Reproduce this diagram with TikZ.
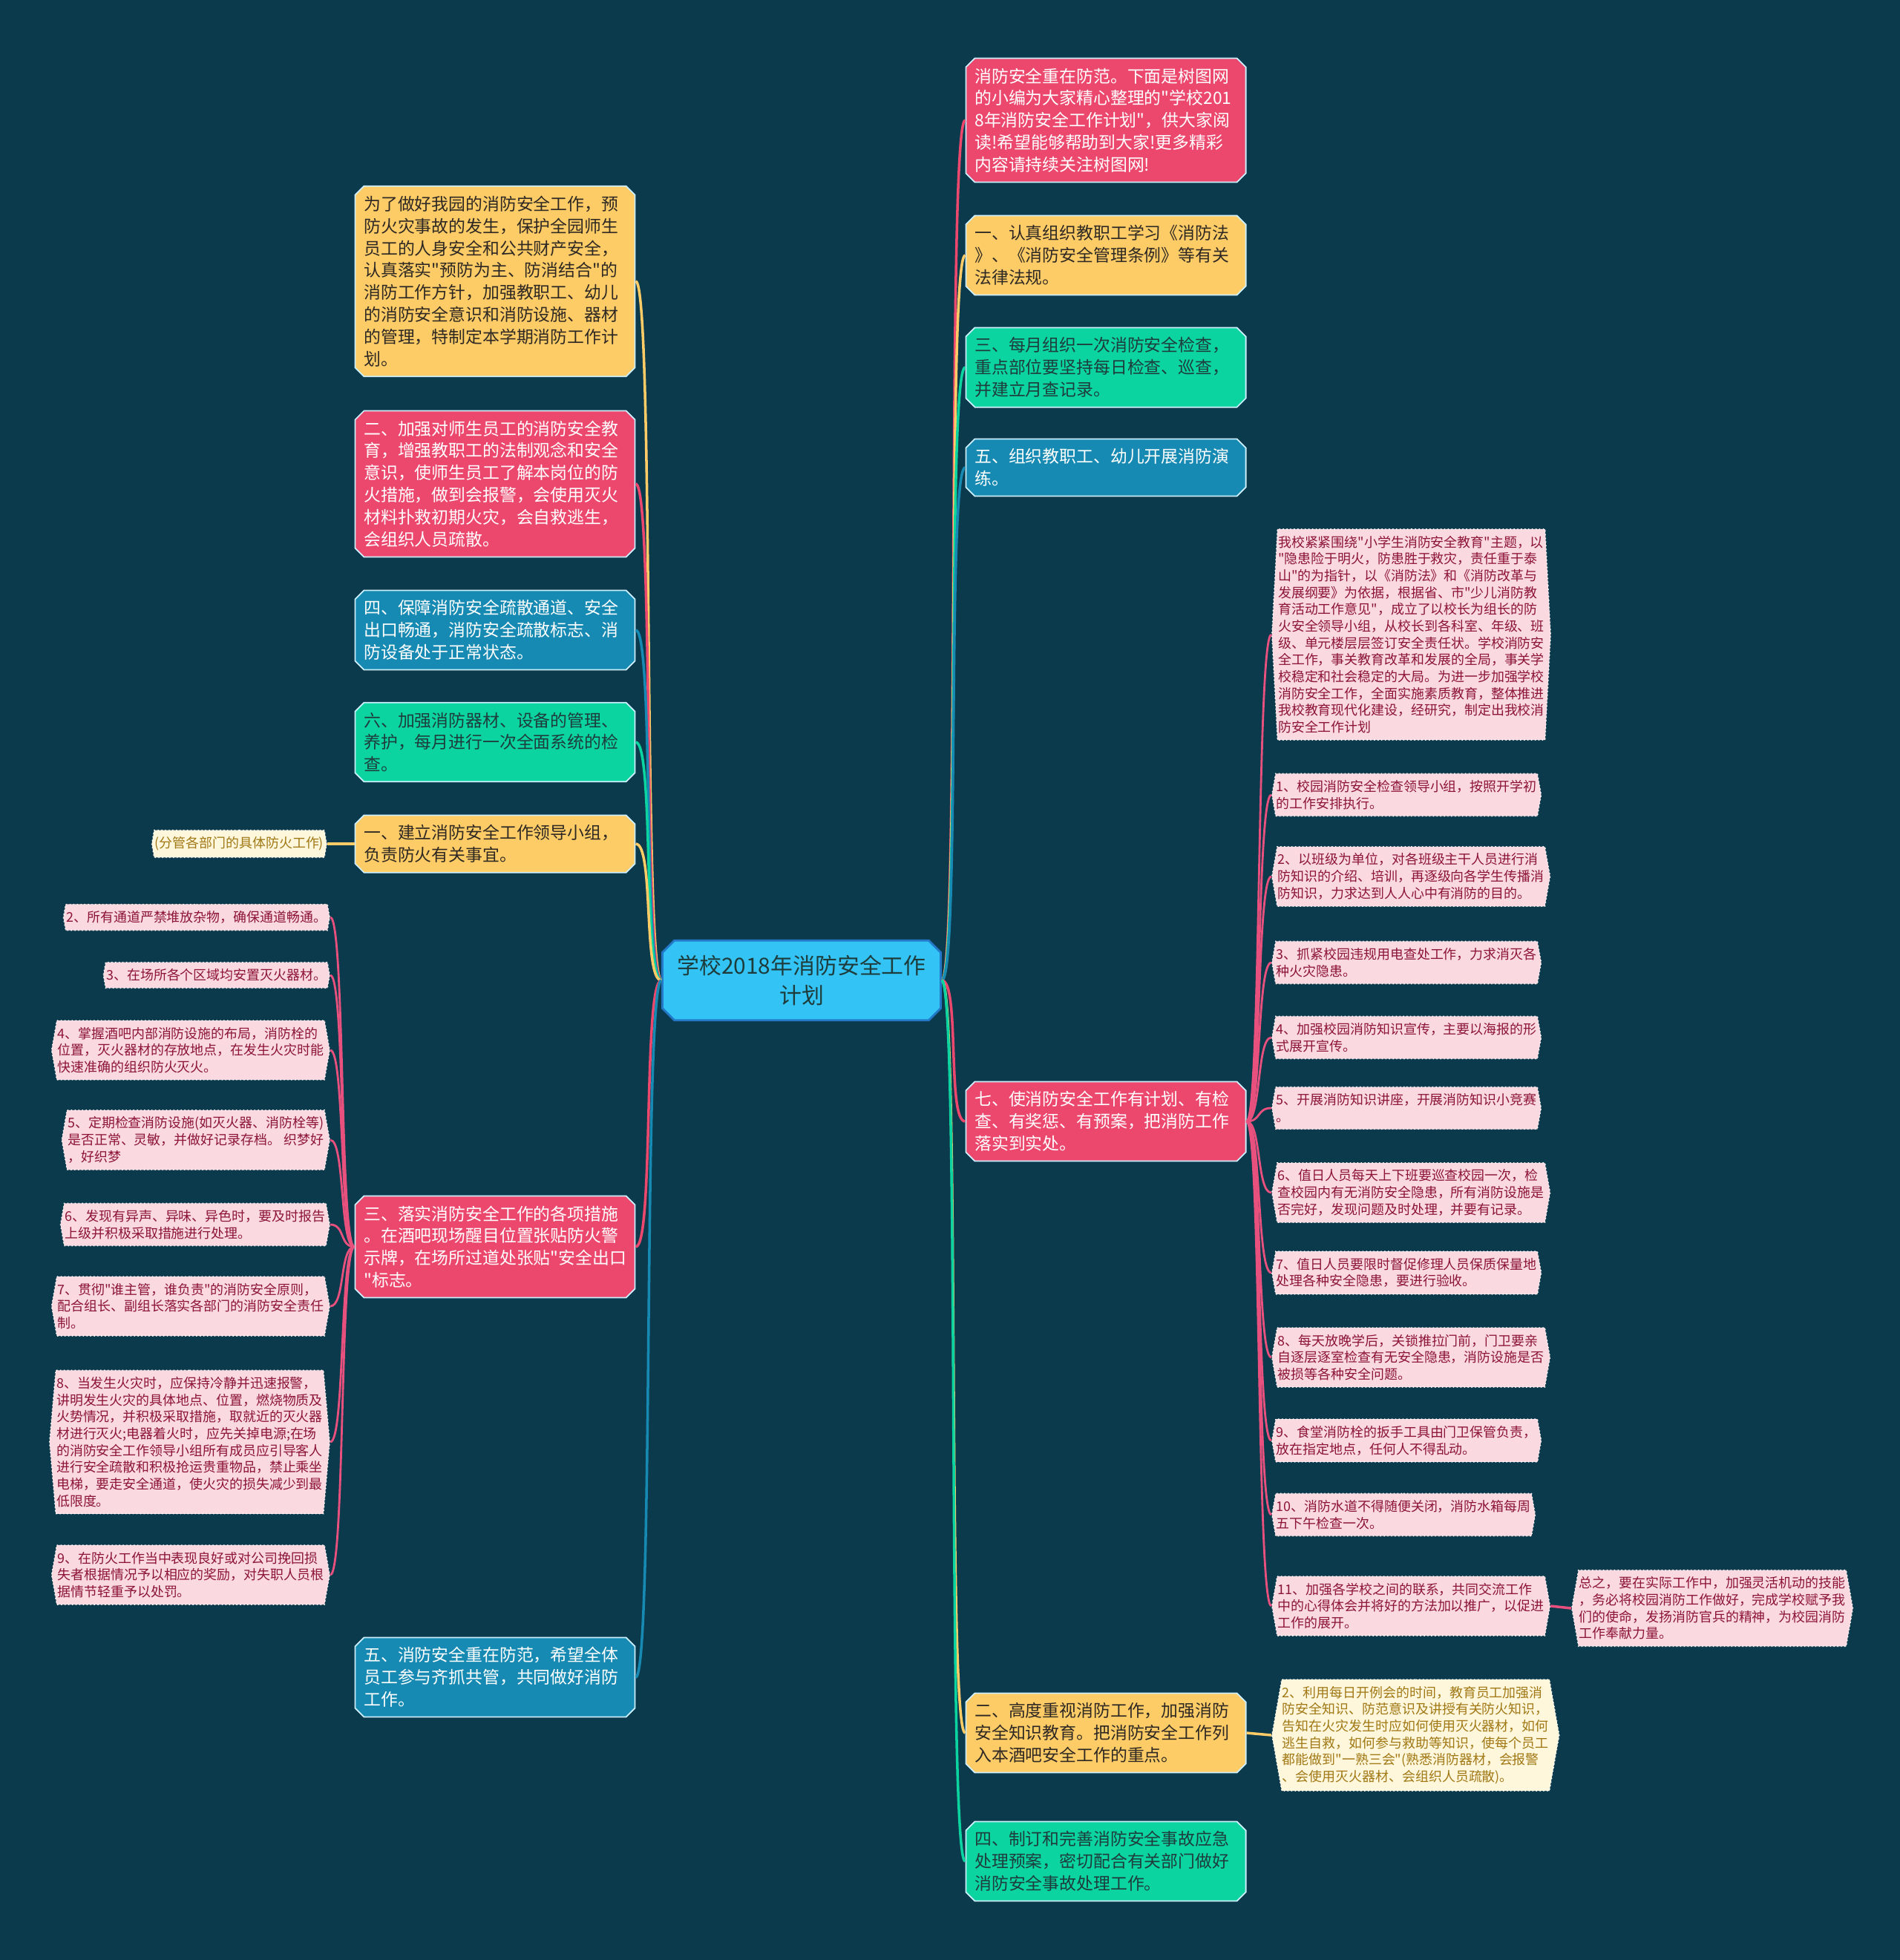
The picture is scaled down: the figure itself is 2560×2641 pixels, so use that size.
\documentclass[tikz,border=0pt]{standalone}
\usepackage{fontspec}
\newfontfamily\cjk{Noto Sans CJK SC}
\usetikzlibrary{shapes.misc,shapes.symbols}

\definecolor{bgblue}{RGB}{12,58,77}
\definecolor{nodered}{RGB}{236,72,110}
\definecolor{nodeyellow}{RGB}{254,204,102}
\definecolor{nodegreen}{RGB}{12,212,160}
\definecolor{nodeblue}{RGB}{22,138,178}
\definecolor{rootfill}{RGB}{51,196,245}
\definecolor{rootline}{RGB}{35,120,200}
\definecolor{subpink}{RGB}{251,217,225}
\definecolor{subcream}{RGB}{255,247,220}
\definecolor{subtext}{RGB}{140,20,55}
\definecolor{creamtext}{RGB}{160,120,20}
\definecolor{textdark}{RGB}{45,40,35}
\definecolor{textgreen}{RGB}{30,60,60}
\definecolor{pinkline}{RGB}{232,80,125}

\tikzset{
  mainbox/.style={chamfered rectangle, chamfered rectangle xsep=0.06cm,
    chamfered rectangle ysep=0.06cm, draw=white!80!cyan, line width=0.5pt,
    text width=3.53cm, inner xsep=0.06cm, inner ysep=0.07cm,
    align=left, font=\cjk\fontsize{6.5pt}{8.5pt}\selectfont},
  redbox/.style={mainbox, fill=nodered, text=white},
  yellowbox/.style={mainbox, fill=nodeyellow, text=textdark},
  greenbox/.style={mainbox, fill=nodegreen, text=textgreen},
  bluebox/.style={mainbox, fill=nodeblue, text=white},
  subbox/.style={signal, signal to=west and east, signal pointer angle=160,
    draw=white, densely dotted, line width=0.4pt, fill=subpink, text=subtext,
    inner xsep=0.01cm, inner ysep=0.09cm, align=left,
    font=\cjk\fontsize{5.1pt}{6.45pt}\selectfont},
  creambox/.style={subbox, fill=subcream, text=creamtext},
  link/.style={line width=1pt},
  sublink/.style={draw=pinkline, line width=0.8pt}
}

\begin{document}
\begin{tikzpicture}[x=0.01cm, y=-0.01cm]
\useasboundingbox (0,0) rectangle (2560,2641);
\fill[bgblue] (0,0) rectangle (2560,2641);

\node (root) at (1080,1321) [chamfered rectangle, chamfered rectangle xsep=0.08cm,
  chamfered rectangle ysep=0.08cm, draw=rootline, line width=0.8pt, fill=rootfill,
  text=textgreen, minimum width=3.7cm, minimum height=1.0cm, align=center,
  font=\cjk\fontsize{8.5pt}{11.4pt}\selectfont] {学校2018年消防安全工作\\计划};

\node (r0) at (1490,162) [redbox] {消防安全重在防范。下面是树图网\\的小编为大家精心整理的"学校201\\8年消防安全工作计划"，供大家阅\\读!希望能够帮助到大家!更多精彩\\内容请持续关注树图网!};
\node (r1) at (1490,344) [yellowbox] {一、认真组织教职工学习《消防法\\》、《消防安全管理条例》等有关\\法律法规。};
\node (r2) at (1490,495) [greenbox] {三、每月组织一次消防安全检查，\\重点部位要坚持每日检查、巡查，\\并建立月查记录。};
\node (r3) at (1490,630) [bluebox] {五、组织教职工、幼儿开展消防演\\练。};
\node (r4) at (1490,1511) [redbox] {七、使消防安全工作有计划、有检\\查、有奖惩、有预案，把消防工作\\落实到实处。};
\node (r5) at (1490,2335) [yellowbox] {二、高度重视消防工作，加强消防\\安全知识教育。把消防安全工作列\\入本酒吧安全工作的重点。};
\node (r6) at (1490,2508) [greenbox] {四、制订和完善消防安全事故应急\\处理预案，密切配合有关部门做好\\消防安全事故处理工作。};

\node (l0) at (667,379) [yellowbox] {为了做好我园的消防安全工作，预\\防火灾事故的发生，保护全园师生\\员工的人身安全和公共财产安全，\\认真落实"预防为主、防消结合"的\\消防工作方针，加强教职工、幼儿\\的消防安全意识和消防设施、器材\\的管理，特制定本学期消防工作计\\划。};
\node (l1) at (667,652) [redbox] {二、加强对师生员工的消防安全教\\育，增强教职工的法制观念和安全\\意识，使师生员工了解本岗位的防\\火措施，做到会报警，会使用灭火\\材料扑救初期火灾，会自救逃生，\\会组织人员疏散。};
\node (l2) at (667,849) [bluebox] {四、保障消防安全疏散通道、安全\\出口畅通，消防安全疏散标志、消\\防设备处于正常状态。};
\node (l3) at (667,1000) [greenbox] {六、加强消防器材、设备的管理、\\养护，每月进行一次全面系统的检\\查。};
\node (l4) at (667,1137) [yellowbox] {一、建立消防安全工作领导小组，\\负责防火有关事宜。};
\node (l5) at (667,1680) [redbox] {三、落实消防安全工作的各项措施\\。在酒吧现场醒目位置张贴防火警\\示牌，在场所过道处张贴"安全出口\\"标志。};
\node (l6) at (667,2260) [bluebox] {五、消防安全重在防范，希望全体\\员工参与齐抓共管，共同做好消防\\工作。};

\node (s0) at (441,1137) [creambox, anchor=east] {(分管各部门的具体防火工作)};
\node (s1) at (445,1236) [subbox, anchor=east] {2、所有通道严禁堆放杂物，确保通道畅通。};
\node (s2) at (445,1314) [subbox, anchor=east] {3、在场所各个区域均安置灭火器材。};
\node (s3) at (445,1415) [subbox, anchor=east] {4、掌握酒吧内部消防设施的布局，消防栓的\\位置，灭火器材的存放地点，在发生火灾时能\\快速准确的组织防火灭火。};
\node (s4) at (445,1536) [subbox, anchor=east] {5、定期检查消防设施(如灭火器、消防栓等)\\是否正常、灵敏，并做好记录存档。 织梦好\\，好织梦};
\node (s5) at (445,1650) [subbox, anchor=east] {6、发现有异声、异味、异色时，要及时报告\\上级并积极采取措施进行处理。};
\node (s6) at (445,1760) [subbox, anchor=east] {7、贯彻"谁主管，谁负责"的消防安全原则，\\配合组长、副组长落实各部门的消防安全责任\\制。};
\node (s7) at (445,1943) [subbox, anchor=east, signal pointer angle=170] {8、当发生火灾时，应保持冷静并迅速报警，\\讲明发生火灾的具体地点、位置，燃烧物质及\\火势情况，并积极采取措施，取就近的灭火器\\材进行灭火;电器着火时，应先关掉电源;在场\\的消防安全工作领导小组所有成员应引导客人\\进行安全疏散和积极抢运贵重物品，禁止乘坐\\电梯，要走安全通道，使火灾的损失减少到最\\低限度。};
\node (s8) at (445,2122) [subbox, anchor=east] {9、在防火工作当中表现良好或对公司挽回损\\失者根据情况予以相应的奖励，对失职人员根\\据情节轻重予以处罚。};

\node (t0) at (1713,855) [subbox, anchor=west, signal pointer angle=174] {我校紧紧围绕"小学生消防安全教育"主题，以\\"隐患险于明火，防患胜于救灾，责任重于泰\\山"的为指针，以《消防法》和《消防改革与\\发展纲要》为依据，根据省、市"少儿消防教\\育活动工作意见"，成立了以校长为组长的防\\火安全领导小组，从校长到各科室、年级、班\\级、单元楼层层签订安全责任状。学校消防安\\全工作，事关教育改革和发展的全局，事关学\\校稳定和社会稳定的大局。为进一步加强学校\\消防安全工作，全面实施素质教育，整体推进\\我校教育现代化建设，经研究，制定出我校消\\防安全工作计划};
\node (t1) at (1713,1071) [subbox, anchor=west] {1、校园消防安全检查领导小组，按照开学初\\的工作安排执行。};
\node (t2) at (1713,1181) [subbox, anchor=west] {2、以班级为单位，对各班级主干人员进行消\\防知识的介绍、培训，再逐级向各学生传播消\\防知识，力求达到人人心中有消防的目的。};
\node (t3) at (1713,1297) [subbox, anchor=west] {3、抓紧校园违规用电查处工作，力求消灭各\\种火灾隐患。};
\node (t4) at (1713,1398) [subbox, anchor=west] {4、加强校园消防知识宣传，主要以海报的形\\式展开宣传。};
\node (t5) at (1713,1493) [subbox, anchor=west] {5、开展消防知识讲座，开展消防知识小竞赛\\。};
\node (t6) at (1713,1607) [subbox, anchor=west] {6、值日人员每天上下班要巡查校园一次，检\\查校园内有无消防安全隐患，所有消防设施是\\否完好，发现问题及时处理，并要有记录。};
\node (t7) at (1713,1715) [subbox, anchor=west] {7、值日人员要限时督促修理人员保质保量地\\处理各种安全隐患，要进行验收。};
\node (t8) at (1713,1829) [subbox, anchor=west] {8、每天放晚学后，关锁推拉门前，门卫要亲\\自逐层逐室检查有无安全隐患，消防设施是否\\被损等各种安全问题。};
\node (t9) at (1713,1941) [subbox, anchor=west] {9、食堂消防栓的扳手工具由门卫保管负责，\\放在指定地点，任何人不得乱动。};
\node (t10) at (1713,2041) [subbox, anchor=west] {10、消防水道不得随便关闭，消防水箱每周\\五下午检查一次。};
\node (t11) at (1713,2164) [subbox, anchor=west] {11、加强各学校之间的联系，共同交流工作\\中的心得体会并将好的方法加以推广，以促进\\工作的展开。};
\node (t12) at (2117,2167) [subbox, anchor=west] {总之，要在实际工作中，加强灵活机动的技能\\，务必将校园消防工作做好，完成学校赋予我\\们的使命，发扬消防官兵的精神，为校园消防\\工作奉献力量。};
\node (t13) at (1713,2338) [creambox, anchor=west] {2、利用每日开例会的时间，教育员工加强消\\防安全知识、防范意识及讲授有关防火知识，\\告知在火灾发生时应如何使用灭火器材，如何\\逃生自救，如何参与救助等知识，使每个员工\\都能做到"一熟三会"(熟悉消防器材，会报警\\、会使用灭火器材、会组织人员疏散)。};

\draw[link, nodered] (root.east) .. controls +(25,0) and +(-25,0) .. (r0.west);
\draw[link, nodeyellow] (root.east) .. controls +(25,0) and +(-25,0) .. (r1.west);
\draw[link, nodegreen] (root.east) .. controls +(25,0) and +(-25,0) .. (r2.west);
\draw[link, nodeblue] (root.east) .. controls +(25,0) and +(-25,0) .. (r3.west);
\draw[link, nodered] (root.east) .. controls +(25,0) and +(-25,0) .. (r4.west);
\draw[link, nodeyellow] (root.east) .. controls +(25,0) and +(-25,0) .. (r5.west);
\draw[link, nodegreen] (root.east) .. controls +(25,0) and +(-25,0) .. (r6.west);

\draw[link, nodeyellow] (root.west) .. controls +(-25,0) and +(25,0) .. (l0.east);
\draw[link, nodered] (root.west) .. controls +(-25,0) and +(25,0) .. (l1.east);
\draw[link, nodeblue] (root.west) .. controls +(-25,0) and +(25,0) .. (l2.east);
\draw[link, nodegreen] (root.west) .. controls +(-25,0) and +(25,0) .. (l3.east);
\draw[link, nodeyellow] (root.west) .. controls +(-25,0) and +(25,0) .. (l4.east);
\draw[link, nodered] (root.west) .. controls +(-25,0) and +(25,0) .. (l5.east);
\draw[link, nodeblue] (root.west) .. controls +(-25,0) and +(25,0) .. (l6.east);

\draw[link, nodeyellow] (l4.west) -- (s0.east);
\draw[sublink] (l5.west) .. controls +(-20,0) and +(20,0) .. (s1.east);
\draw[sublink] (l5.west) .. controls +(-20,0) and +(20,0) .. (s2.east);
\draw[sublink] (l5.west) .. controls +(-20,0) and +(20,0) .. (s3.east);
\draw[sublink] (l5.west) .. controls +(-20,0) and +(20,0) .. (s4.east);
\draw[sublink] (l5.west) .. controls +(-20,0) and +(20,0) .. (s5.east);
\draw[sublink] (l5.west) .. controls +(-20,0) and +(20,0) .. (s6.east);
\draw[sublink] (l5.west) .. controls +(-20,0) and +(20,0) .. (s7.east);
\draw[sublink] (l5.west) .. controls +(-20,0) and +(20,0) .. (s8.east);

\draw[sublink] (r4.east) .. controls +(20,0) and +(-20,0) .. (t0.west);
\draw[sublink] (r4.east) .. controls +(20,0) and +(-20,0) .. (t1.west);
\draw[sublink] (r4.east) .. controls +(20,0) and +(-20,0) .. (t2.west);
\draw[sublink] (r4.east) .. controls +(20,0) and +(-20,0) .. (t3.west);
\draw[sublink] (r4.east) .. controls +(20,0) and +(-20,0) .. (t4.west);
\draw[sublink] (r4.east) .. controls +(20,0) and +(-20,0) .. (t5.west);
\draw[sublink] (r4.east) .. controls +(20,0) and +(-20,0) .. (t6.west);
\draw[sublink] (r4.east) .. controls +(20,0) and +(-20,0) .. (t7.west);
\draw[sublink] (r4.east) .. controls +(20,0) and +(-20,0) .. (t8.west);
\draw[sublink] (r4.east) .. controls +(20,0) and +(-20,0) .. (t9.west);
\draw[sublink] (r4.east) .. controls +(20,0) and +(-20,0) .. (t10.west);
\draw[sublink] (r4.east) .. controls +(20,0) and +(-20,0) .. (t11.west);
\draw[link, pinkline] (t11.east) -- (t12.west);
\draw[link, nodeyellow] (r5.east) -- (t13.west);
\end{tikzpicture}
\end{document}
